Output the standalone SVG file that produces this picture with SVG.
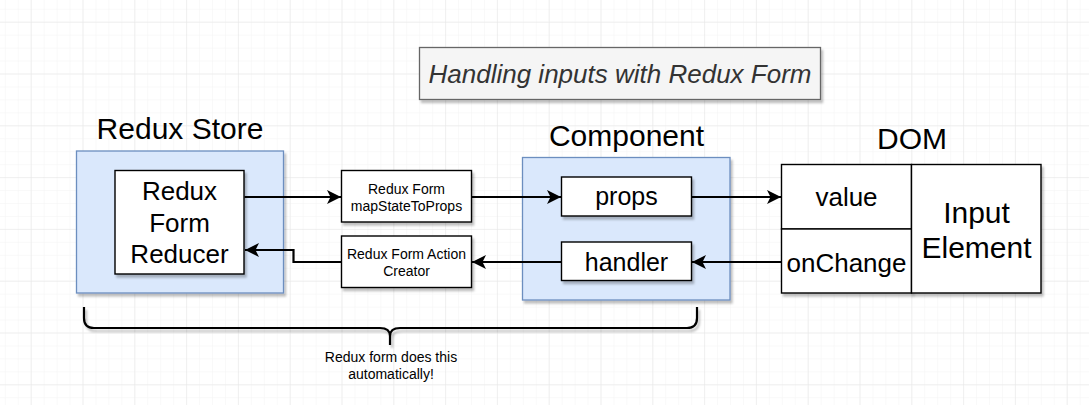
<svg xmlns="http://www.w3.org/2000/svg" width="1089" height="405" viewBox="0 0 1089 405">
<style>
text{font-family:"Liberation Sans",Arial,Helvetica,sans-serif;fill:#000;text-anchor:middle}
.cont{fill:#dae8fc;stroke:#6c8ebf;stroke-width:1.3}
.box{fill:#fff;stroke:#000;stroke-width:1.4}
.edge{fill:none;stroke:#000;stroke-width:2.2}
.lbl{font-size:30px}
.big{font-size:26px}
.mid{font-size:25px}
.sm{font-size:14px}
</style>
<defs>
<pattern id="minor" x="30.7" y="21.7" width="12.95" height="12.95" patternUnits="userSpaceOnUse">
<path d="M0,0 H12.95 M0,0 V12.95" stroke="#f3f3f3" stroke-width="1" fill="none"/>
</pattern>
<pattern id="major" x="30.7" y="21.7" width="51.8" height="51.8" patternUnits="userSpaceOnUse">
<path d="M0,0 H51.8 M0,0 V51.8" stroke="#e6e6e6" stroke-width="1" fill="none"/>
</pattern>
<filter id="sh" x="-10%" y="-10%" width="130%" height="130%">
<feDropShadow dx="2" dy="3" stdDeviation="1" flood-color="#000" flood-opacity="0.25"/>
</filter>
<marker id="arr" markerUnits="userSpaceOnUse" markerWidth="14" markerHeight="14" refX="14" refY="7" orient="auto">
<path d="M0,0 L14,7 L0,14 L3.5,7 Z" fill="#000"/>
</marker>
</defs>
<rect width="1089" height="405" fill="#fff"/>
<rect width="1089" height="405" fill="url(#minor)"/>
<rect width="1089" height="405" fill="url(#major)"/>

<g id="title">
<rect x="419.5" y="47.5" width="401" height="52" fill="#f5f5f5" stroke="#666" stroke-width="1.3" filter="url(#sh)"/>
<text x="620" y="83" style="font-size:26px;font-style:italic;fill:#333">Handling inputs with Redux Form</text>
</g>

<g id="redux-store">
<text class="lbl" x="180" y="139">Redux Store</text>
<rect class="cont" x="76.5" y="151" width="207" height="142" filter="url(#sh)"/>
</g>
<g id="reducer">
<rect class="box" x="115" y="170.5" width="129" height="103.5" filter="url(#sh)"/>
<text class="big" x="179.5" y="200">Redux</text>
<text class="big" x="179.5" y="231.5">Form</text>
<text class="big" x="179.5" y="263">Reducer</text>
</g>

<g id="mapstate">
<rect class="box" x="341.5" y="170.5" width="130" height="51.5" filter="url(#sh)"/>
<text class="sm" x="406.5" y="193.5">Redux Form</text>
<text class="sm" x="406.5" y="211">mapStateToProps</text>
</g>
<g id="action-creator">
<rect class="box" x="341.5" y="236" width="130" height="51.5" filter="url(#sh)"/>
<text class="sm" x="406.5" y="258.5">Redux Form Action</text>
<text class="sm" x="406.5" y="276">Creator</text>
</g>

<g id="component">
<text class="lbl" x="626.5" y="146">Component</text>
<rect class="cont" x="522.5" y="157.5" width="207.5" height="142.5" filter="url(#sh)"/>
</g>
<g id="props">
<rect class="box" x="561.5" y="177" width="130" height="39" filter="url(#sh)"/>
<text class="mid" x="626.5" y="205">props</text>
</g>
<g id="handler">
<rect class="box" x="561.5" y="242" width="130" height="38.5" filter="url(#sh)"/>
<text class="mid" x="626.5" y="270.5">handler</text>
</g>

<g id="dom">
<text class="lbl" x="912" y="149">DOM</text>
</g>
<g id="value">
<rect class="box" x="781.5" y="164.5" width="130" height="64.5" filter="url(#sh)"/>
<text class="big" x="846.5" y="206">value</text>
</g>
<g id="onchange">
<rect class="box" x="781.5" y="229" width="130" height="64" filter="url(#sh)"/>
<text class="big" x="846.5" y="271.5">onChange</text>
</g>
<g id="input-element">
<rect class="box" x="911.5" y="164.5" width="129.5" height="128.5" filter="url(#sh)"/>
<text class="lbl" x="976.5" y="223">Input</text>
<text class="lbl" x="976.5" y="258">Element</text>
</g>

<g id="connectors">
<path class="edge" d="M244.5,197 L341,197" marker-end="url(#arr)"/>
<path class="edge" d="M471.5,197 L561,197" marker-end="url(#arr)"/>
<path class="edge" d="M691.5,197 L781,197" marker-end="url(#arr)"/>
<path class="edge" d="M781.5,262 L692,262" marker-end="url(#arr)"/>
<path class="edge" d="M561.5,262 L472,262" marker-end="url(#arr)"/>
<path class="edge" d="M341.5,262 L293.5,262 L293.5,250 L245,250" marker-end="url(#arr)"/>
</g>

<g id="brace">
<path d="M84,307 L84,318 Q84,328 94,328 L380,328 Q390,328 390,336 Q390,328 400,328 L687,328 Q697,328 697,318 L697,307 M390,335 L390,345" fill="none" stroke="#000" stroke-width="2.2" filter="url(#sh)"/>
<text class="sm" x="391" y="362">Redux form does this</text>
<text class="sm" x="391" y="379">automatically!</text>
</g>
</svg>
